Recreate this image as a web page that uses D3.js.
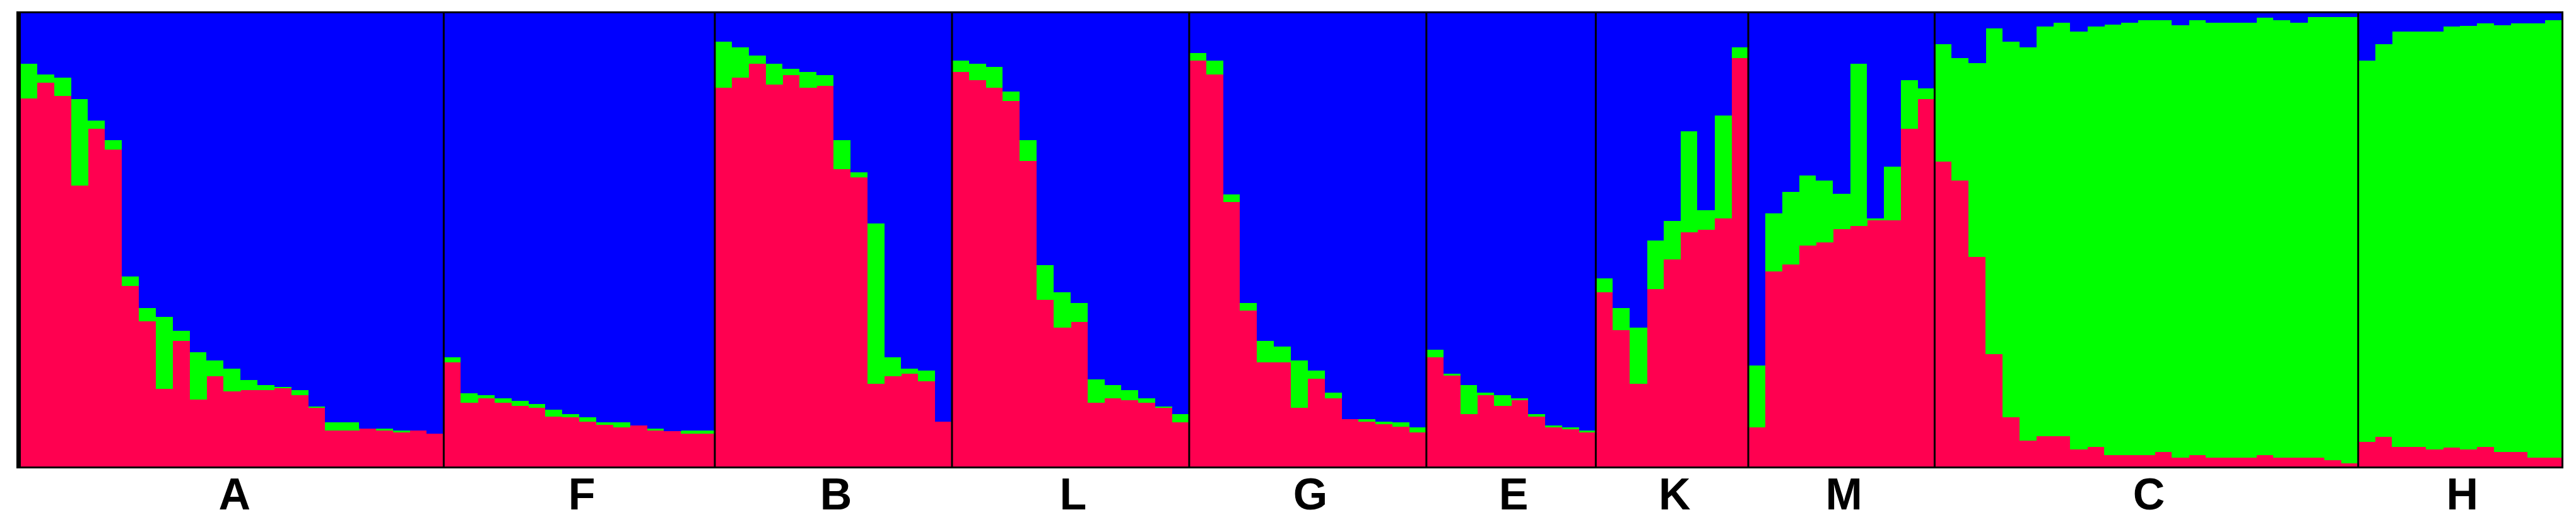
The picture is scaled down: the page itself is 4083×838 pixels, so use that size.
<!DOCTYPE html>
<html>
<head>
<meta charset="utf-8">
<script src="https://cdn.jsdelivr.net/npm/d3@7"></script>
<style>
  html, body { margin: 0; padding: 0; background: #fff; }
  svg { display: block; }
</style>
</head>
<body>
<div id="chart"></div>
<script>
// population order as shown, left to right
var popNames = ['A', 'F', 'B', 'L', 'G', 'E', 'K', 'M', 'C', 'H'];

// membership in the red cluster, one value per individual
var redA = [0.811, 0.846, 0.816, 0.62, 0.744, 0.698, 0.399, 0.321, 0.172, 0.278, 0.148, 0.2, 0.167,
            0.17, 0.17, 0.173, 0.159, 0.13, 0.081, 0.081, 0.085, 0.081, 0.076, 0.08, 0.074];
var redF = [0.23, 0.141, 0.152, 0.141, 0.135, 0.13, 0.111, 0.11, 0.1, 0.093, 0.087, 0.091, 0.08,
            0.079, 0.074, 0.074];
var redB = [0.835, 0.857, 0.887, 0.841, 0.863, 0.835, 0.839, 0.656, 0.637, 0.183, 0.2, 0.206, 0.189, 0.1];
var redL = [0.869, 0.852, 0.835, 0.805, 0.673, 0.368, 0.307, 0.32, 0.141, 0.152, 0.147, 0.141, 0.13, 0.099];
var redG = [0.894, 0.864, 0.583, 0.344, 0.231, 0.231, 0.13, 0.194, 0.152, 0.105, 0.1, 0.094, 0.089, 0.076];
var redE = [0.241, 0.201, 0.117, 0.159, 0.135, 0.147, 0.111, 0.087, 0.083, 0.076];
var redK = [0.385, 0.302, 0.183, 0.391, 0.457, 0.516, 0.522, 0.547, 0.9];
var redM = [0.087, 0.43, 0.446, 0.487, 0.494, 0.524, 0.53, 0.543, 0.543, 0.744, 0.81];
var redC = [0.672, 0.63, 0.463, 0.248, 0.11, 0.058, 0.068, 0.068, 0.039, 0.044, 0.026, 0.026, 0.026,
            0.033, 0.021, 0.026, 0.021, 0.021, 0.021, 0.026, 0.021, 0.021, 0.021, 0.015, 0.009];
var redH = [0.056, 0.067, 0.044, 0.044, 0.039, 0.043, 0.039, 0.044, 0.033, 0.033, 0.021, 0.021];

// membership in the green cluster (blue is what is left up to 1)
var greenA = [0.076, 0.018, 0.041, 0.19, 0.018, 0.022, 0.021, 0.029, 0.159, 0.022, 0.105, 0.035, 0.05,
              0.022, 0.011, 0.004, 0.011, 0.004, 0.017, 0.017, 0, 0.004, 0.005, 0, 0];
var greenF = [0.011, 0.022, 0.006, 0.011, 0.011, 0.009, 0.016, 0.006, 0.01, 0.006, 0.011, 0, 0.005,
              0, 0.006, 0.006];
var greenB = [0.101, 0.067, 0.018, 0.046, 0.013, 0.034, 0.024, 0.064, 0.011, 0.353, 0.042, 0.011, 0.024, 0];
var greenL = [0.025, 0.036, 0.046, 0.022, 0.047, 0.076, 0.078, 0.041, 0.052, 0.029, 0.023, 0.011, 0.003, 0.017];
var greenG = [0.017, 0.03, 0.017, 0.017, 0.047, 0.034, 0.105, 0.019, 0.012, 0, 0.005, 0.006, 0.01, 0.011];
var greenE = [0.018, 0.005, 0.064, 0.005, 0.024, 0.005, 0.005, 0.004, 0.004, 0.004];
var greenK = [0.03, 0.048, 0.124, 0.108, 0.084, 0.223, 0.043, 0.227, 0.024];
var greenM = [0.137, 0.128, 0.159, 0.155, 0.136, 0.077, 0.357, 0.004, 0.118, 0.108, 0.023];
var greenC = [0.258, 0.27, 0.426, 0.717, 0.826, 0.866, 0.902, 0.91, 0.92, 0.926, 0.947, 0.952, 0.957,
              0.95, 0.951, 0.957, 0.957, 0.957, 0.957, 0.963, 0.962, 0.957, 0.969, 0.975, 0.981];
var greenH = [0.838, 0.863, 0.914, 0.914, 0.92, 0.927, 0.932, 0.932, 0.939, 0.943, 0.956, 0.962];

var redByPop = [redA, redF, redB, redL, redG, redE, redK, redM, redC, redH];
var greenByPop = [greenA, greenF, greenB, greenL, greenG, greenE, greenK, greenM, greenC, greenH];

var clusterKeys = ['red', 'green', 'blue'];
var clusterColors = ['#ff0050', '#00ff00', '#0000ff'];

var structurePlot = {

  config: {
    width: 4083,
    height: 838,
    left: 32,
    right: 4060,
    top: 20,
    bottom: 740
  },

  /* ---
   * Builds one row per individual and draws the whole plot
   */
  display: function(el) {
    this.el = el;

    this.rows = [];
    this.groups = [];
    popNames.forEach((name, p) => {
      let first = this.rows.length;
      redByPop[p].forEach((r, i) => {
        let g = greenByPop[p][i];
        this.rows.push({ id: name + i, pop: name, red: r, green: g, blue: Math.max(0, 1 - r - g) });
      });
      this.groups.push({ name: name, first: this.rows[first].id, last: this.rows[this.rows.length - 1].id });
    });

    this.createSvg();
    this.createScales();
    this.createBars();
    this.createFrame();
    this.createLabels();
  },

  createSvg: function() {
    this.svg = d3.select(this.el).append('svg')
                 .attr('width', this.config.width)
                 .attr('height', this.config.height);
  },

  createScales: function() {
    this.x = d3.scaleBand()
               .domain(this.rows.map(d => d.id))
               .range([this.config.left, this.config.right])
               .padding(0);

    this.y = d3.scaleLinear()
               .domain([0, 1])
               .range([this.config.bottom, this.config.top]);

    this.color = d3.scaleOrdinal().domain(clusterKeys).range(clusterColors);
  },

  /* ---
   * Stacked bars: red at the bottom, green, then blue on top
   */
  createBars: function() {
    var stack = d3.stack().keys(clusterKeys);

    this.svg.append('g')
            .selectAll('g')
            .data(stack(this.rows))
            .enter()
            .append('g')
            .attr('fill', d => this.color(d.key))
            .selectAll('rect')
            .data(d => d)
            .enter()
            .append('rect')
            .attr('shape-rendering', 'crispEdges')
            .attr('x', d => this.x(d.data.id))
            .attr('width', this.x.bandwidth() + 0.6)
            .attr('y', d => this.y(Math.min(1, d[1])))
            .attr('height', d => Math.max(0, this.y(d[0]) - this.y(Math.min(1, d[1]))));
  },

  /* ---
   * Black box round the plot and lines between populations
   */
  createFrame: function() {
    var frame = this.svg.append('g').attr('stroke', '#000').attr('fill', 'none');

    frame.selectAll('line.sep')
         .data(this.groups.slice(1))
         .enter()
         .append('line')
         .attr('class', 'sep')
         .attr('x1', d => this.x(d.first))
         .attr('x2', d => this.x(d.first))
         .attr('y1', this.config.top)
         .attr('y2', this.config.bottom)
         .attr('stroke-width', 3);

    frame.append('rect')
         .attr('x', this.config.left - 0.5)
         .attr('y', this.config.top - 0.5)
         .attr('width', this.config.right - this.config.left + 2)
         .attr('height', this.config.bottom - this.config.top + 1)
         .attr('stroke-width', 3);

    frame.append('line')
         .attr('x1', this.config.left - 2.5)
         .attr('x2', this.config.left - 2.5)
         .attr('y1', this.config.top - 2)
         .attr('y2', this.config.bottom + 2)
         .attr('stroke-width', 7);
  },

  createLabels: function() {
    this.svg.append('g')
            .selectAll('text')
            .data(this.groups)
            .enter()
            .append('text')
            .attr('x', d => (this.x(d.first) + this.x(d.last) + this.x.bandwidth()) / 2 + 4)
            .attr('y', 807)
            .attr('text-anchor', 'middle')
            .attr('font-family', 'Liberation Sans, Arial, sans-serif')
            .attr('font-weight', 'bold')
            .attr('font-size', 70)
            .attr('fill', '#000')
            .text(d => d.name);
  }

};

structurePlot.display('#chart');
</script>
</body>
</html>
